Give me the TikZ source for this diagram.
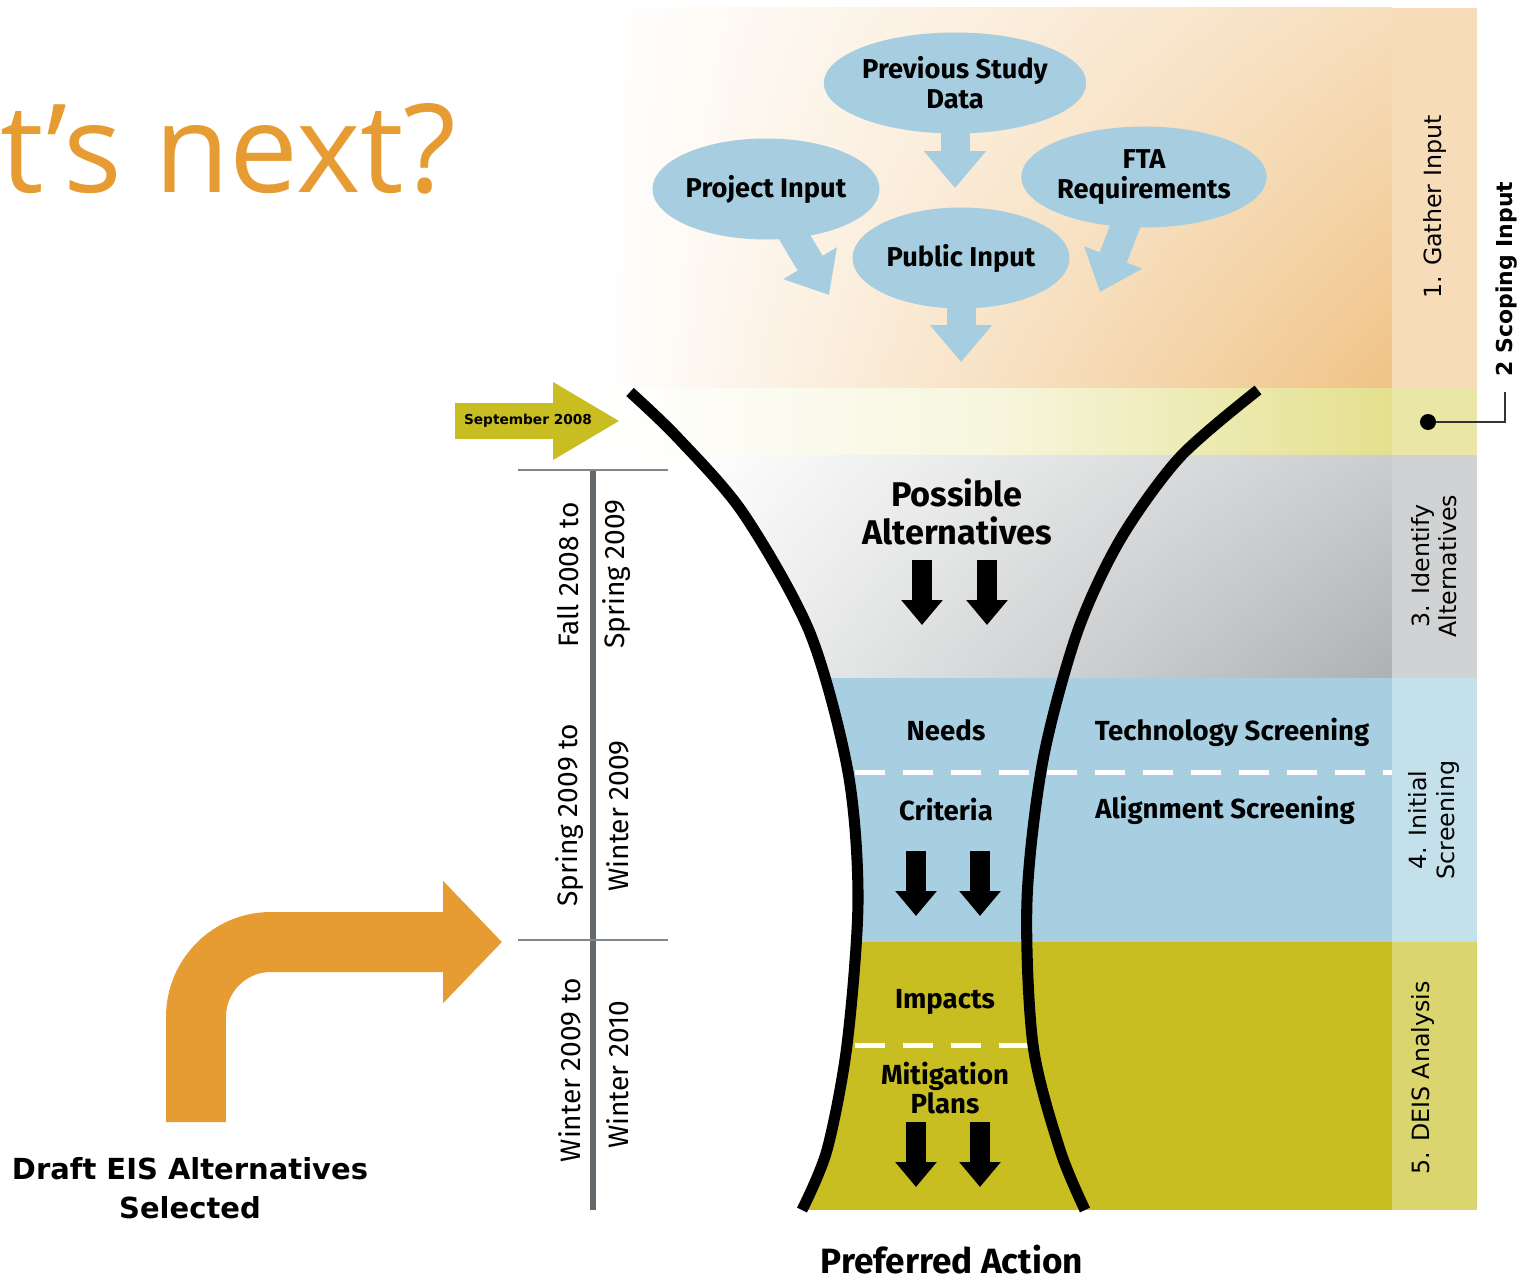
\documentclass[tikz,border=0pt]{standalone}
\usepackage{fontspec}
\setmainfont{DejaVu Sans}
\newfontfamily\titlefont{Open Sans}
\newfontfamily\fira{Fira Sans}
\usetikzlibrary{shapes.geometric,arrows.meta,positioning,shadings}

\definecolor{HeadOrange}{HTML}{E69C32}
\definecolor{BandOrange}{HTML}{F0C386}
\definecolor{StripOrange}{HTML}{F6DCB8}
\definecolor{BandYellow}{HTML}{E4E08E}
\definecolor{StripYellow}{HTML}{E9E6A6}
\definecolor{BandGray}{HTML}{AEB1B3}
\definecolor{StripGray}{HTML}{D0D2D3}
\definecolor{BandBlue}{HTML}{A7CFE1}
\definecolor{StripBlue}{HTML}{C3E0EB}
\definecolor{BandOlive}{HTML}{C8BE21}
\definecolor{StripOlive}{HTML}{DAD56E}
\definecolor{Bubble}{HTML}{A6CEE0}
\definecolor{TimeGray}{HTML}{62686B}

\tikzset{
  bubble/.style={ellipse, fill=Bubble, minimum width=4.34cm, minimum height=2.02cm, inner sep=0pt, align=center, font=\fira\bfseries\fontsize{15.5}{17}\selectfont},
  bubblearrow/.style={Bubble, line width=0.58cm, -{Triangle[length=0.74cm,width=1.2cm]}},
  downarrow/.style={line width=0.4cm, -{Triangle[length=0.5cm,width=0.8cm]}},
  funnel/.style={line width=6.3pt},
  gapline/.style={white, line width=0.1cm, dash pattern=on 0.6cm off 0.36cm},
  stagetext/.style={font=\fira\bfseries\fontsize{15.7}{17}\selectfont, align=center},
  sidelabel/.style={rotate=90, align=center, font=\fontsize{13.5}{15.5}\selectfont},
  timelabel/.style={rotate=90, font=\fira\fontsize{16}{18}\selectfont},
}

\begin{document}
\begin{tikzpicture}[x=0.02cm,y=-0.02cm]
\useasboundingbox (0,0) rectangle (1533,1280);
\newcommand{\LeftSide}{plot[smooth] coordinates {(630,392) (677,437) (743,513) (810,633) (848,772) (858,900) (847,1045) (827,1150) (802,1210)}}
\newcommand{\RightSide}{plot[smooth] coordinates {(1258,390) (1180,457) (1120,540) (1077,633) (1043,760) (1027,900) (1033,1045) (1060,1150) (1085,1210)}}
\newcommand{\DownArrows}{922/560,987/560,916/851,980/851,916/1122,980/1122}

% bands
\shade[upper left=white, lower left=white, upper right=BandOrange!55!white, lower right=BandOrange] (600,8) rectangle (1392,388);
\fill[StripOrange] (1392,8) rectangle (1477,388);
\shade[left color=white, right color=BandYellow, middle color=BandYellow!30!white] (600,388) rectangle (1392,455);
\fill[StripYellow] (1392,388) rectangle (1477,455);
\begin{scope}
\clip \LeftSide -- (1392,1210) -- (1392,388) -- cycle;
\shade[upper left=white, lower left=BandGray!15!white, upper right=BandGray!65!white, lower right=BandGray] (680,455) rectangle (1392,678);
\fill[BandBlue] (600,678) rectangle (1392,942);
\fill[BandOlive] (600,942) rectangle (1392,1210);
\end{scope}
\fill[StripGray] (1392,455) rectangle (1477,678);
\fill[StripBlue] (1392,678) rectangle (1477,942);
\fill[StripOlive] (1392,942) rectangle (1477,1210);

\draw[gapline] (855,772) -- (1392,772);
\draw[gapline] (855,1045) -- (1030,1045);

% funnel
\draw[funnel] \LeftSide;
\draw[funnel] \RightSide;

% input bubbles
\coordinate (prevC) at (955,83);
\coordinate (projC) at (766,189);
\coordinate (ftaC) at (1144,177);
\coordinate (pubC) at (961,258);
\coordinate (prevTip) at (955,188);
\coordinate (projTip) at (829,295);
\coordinate (ftaTip) at (1100,292);
\coordinate (pubTip) at (961,362);
\draw[bubblearrow] (prevC) -- (prevTip);
\draw[bubblearrow] (projC) -- (projTip);
\draw[bubblearrow] (ftaC) -- (ftaTip);
\draw[bubblearrow] (pubC) -- (pubTip);
\node[bubble] (prev) at (prevC) {Previous Study\\Data};
\node[bubble] (proj) at (projC) {Project Input};
\node[bubble] (fta) at (ftaC) {FTA\\Requirements};
\node[bubble] (pub) at (pubC) {Public Input};

% stages
\node[stagetext, font=\fira\bfseries\fontsize{19.5}{21.5}\selectfont] (poss) at (957,512) {Possible\\Alternatives};
\node[stagetext] (needs) at (946,730) {Needs};
\node[stagetext] (tech) at (1232,732) {Technology Screening};
\node[stagetext] (crit) at (946,810) {Criteria};
\node[stagetext] (align) at (1225,810) {Alignment Screening};
\node[stagetext] (imp) at (945,1002) {Impacts};
\node[stagetext] (mitig) at (945,1088) {Mitigation\\Plans};
\foreach \x/\y in \DownArrows{\draw[downarrow] (\x,\y) -- ++(0,65);}
\node[anchor=base, inner sep=0pt, font=\fira\bfseries\fontsize{20}{22}\selectfont] (pref) at (952,1273) {Preferred Action};

% side labels
\node[sidelabel] (gather) at (1435,207) {1. Gather Input};
\node[sidelabel, font=\bfseries\fontsize{12.5}{14}\selectfont] (scoping) at (1506,279) {2 Scoping Input};
\node[sidelabel] (ident) at (1434,566) {3. Identify\\Alternatives};
\node[sidelabel] (initial) at (1434,820) {4. Initial\\Screening};
\node[sidelabel] (deis) at (1423,1078) {5. DEIS Analysis};
\node[circle, fill, inner sep=0pt, minimum size=0.32cm] (scopeDot) at (1428,422) {};
\coordinate (scopeEnd) at (1505,392);
\draw[line width=1.4pt, black!80] (scopeDot) -| (scopeEnd);

% timeline
\coordinate (tlTop) at (593,470);
\coordinate (tlBot) at (593,1210);
\draw[TimeGray, line width=0.12cm] (tlTop) -- (tlBot);
\foreach \y in {470,940}{\draw[TimeGray!80, line width=1.4pt] (518,\y) -- (668,\y);}
\node[timelabel] (fallA) at (568,575) {Fall 2008 to};
\node[timelabel] (fallB) at (617,574) {Spring 2009};
\node[timelabel] (sprA) at (570,815) {Spring 2009 to};
\node[timelabel] (sprB) at (618,816) {Winter 2009};
\node[timelabel] (winA) at (570,1070) {Winter 2009 to};
\node[timelabel] (winB) at (618,1075) {Winter 2010};

\coordinate (septTail) at (455,421);
\coordinate (septTip) at (620,421);
\draw[BandOlive, line width=0.74cm, -{Triangle[length=1.34cm,width=1.46cm]}] (septTail) -- (septTip);
\node[font=\bfseries\fontsize{7.8}{9}\selectfont] (sept) at (528,421) {September 2008};

% left side
\node[anchor=base west, inner sep=0pt, text=HeadOrange, font=\titlefont\fontsize{70}{74}\selectfont] (title) at (0,193) {t’s next?};
\coordinate (bendFoot) at (196,1122);
\coordinate (bendTip) at (502,942);
\draw[HeadOrange, line width=1.2cm, rounded corners=1.5cm, -{Triangle[length=1.18cm,width=2.38cm]}] (bendFoot) |- (bendTip);
\node[align=center, font=\bfseries\fontsize{16.5}{22}\selectfont] (draft) at (190,1188) {Draft EIS Alternatives\\Selected};
\end{tikzpicture}
\end{document}
